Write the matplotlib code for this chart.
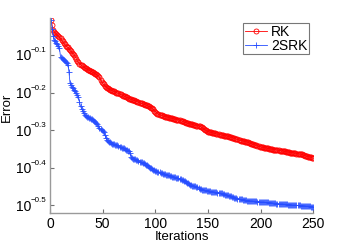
import numpy as np
import matplotlib
matplotlib.use("Agg")
import matplotlib.pyplot as plt
from matplotlib.ticker import FixedLocator, NullLocator, NullFormatter
from matplotlib.transforms import ScaledTranslation

plt.rcParams['font.family'] = ['Liberation Sans', 'DejaVu Sans']

iterations = list(range(1, 251))

# log10 of the error
rk_log_error = [
    -0.007, -0.020, -0.033, -0.038, -0.042, -0.045, -0.048, -0.050, -0.053, -0.056,
    -0.060, -0.064, -0.068, -0.072, -0.075, -0.078, -0.080, -0.083, -0.087, -0.090,
    -0.094, -0.097, -0.100, -0.105, -0.110, -0.116, -0.120, -0.123, -0.126, -0.128,
    -0.130, -0.132, -0.134, -0.136, -0.137, -0.139, -0.140, -0.142, -0.143, -0.145,
    -0.146, -0.148, -0.150, -0.152, -0.154, -0.156, -0.160, -0.166, -0.171, -0.175,
    -0.178, -0.182, -0.185, -0.187, -0.189, -0.191, -0.192, -0.194, -0.195, -0.196,
    -0.197, -0.198, -0.200, -0.201, -0.202, -0.203, -0.205, -0.206, -0.208, -0.209,
    -0.210, -0.212, -0.213, -0.214, -0.216, -0.217, -0.218, -0.219, -0.220, -0.221,
    -0.222, -0.223, -0.224, -0.225, -0.227, -0.228, -0.229, -0.230, -0.231, -0.232,
    -0.233, -0.234, -0.236, -0.237, -0.238, -0.240, -0.242, -0.245, -0.248, -0.251,
    -0.254, -0.256, -0.258, -0.259, -0.260, -0.261, -0.262, -0.263, -0.264, -0.264,
    -0.265, -0.266, -0.267, -0.268, -0.268, -0.269, -0.270, -0.270, -0.271, -0.272,
    -0.272, -0.273, -0.274, -0.275, -0.276, -0.277, -0.278, -0.279, -0.280, -0.281,
    -0.282, -0.283, -0.284, -0.284, -0.285, -0.286, -0.287, -0.287, -0.288, -0.289,
    -0.289, -0.290, -0.291, -0.293, -0.295, -0.297, -0.299, -0.301, -0.303, -0.304,
    -0.305, -0.306, -0.306, -0.307, -0.308, -0.309, -0.309, -0.310, -0.311, -0.311,
    -0.312, -0.313, -0.313, -0.314, -0.315, -0.315, -0.316, -0.316, -0.317, -0.318,
    -0.318, -0.319, -0.320, -0.321, -0.322, -0.323, -0.324, -0.325, -0.326, -0.327,
    -0.328, -0.328, -0.329, -0.330, -0.331, -0.331, -0.332, -0.333, -0.334, -0.335,
    -0.336, -0.337, -0.338, -0.339, -0.340, -0.341, -0.342, -0.343, -0.344, -0.345,
    -0.346, -0.346, -0.347, -0.347, -0.348, -0.349, -0.349, -0.350, -0.350, -0.351,
    -0.351, -0.352, -0.352, -0.353, -0.353, -0.354, -0.354, -0.355, -0.355, -0.356,
    -0.356, -0.357, -0.357, -0.358, -0.358, -0.359, -0.359, -0.360, -0.360, -0.361,
    -0.361, -0.362, -0.362, -0.363, -0.363, -0.364, -0.364, -0.365, -0.365, -0.366,
    -0.367, -0.368, -0.369, -0.370, -0.371, -0.371, -0.372, -0.373, -0.374, -0.375,
]

srk2_log_error = [
    -0.007, -0.030, -0.050, -0.060, -0.064, -0.068, -0.071, -0.075, -0.082, -0.105,
    -0.107, -0.110, -0.113, -0.116, -0.119, -0.122, -0.126, -0.145, -0.175, -0.180,
    -0.185, -0.189, -0.193, -0.197, -0.202, -0.207, -0.211, -0.225, -0.237, -0.243,
    -0.249, -0.255, -0.259, -0.262, -0.264, -0.266, -0.267, -0.268, -0.270, -0.271,
    -0.273, -0.276, -0.279, -0.282, -0.285, -0.290, -0.295, -0.298, -0.301, -0.303,
    -0.306, -0.312, -0.320, -0.326, -0.329, -0.331, -0.333, -0.335, -0.336, -0.337,
    -0.338, -0.339, -0.340, -0.341, -0.342, -0.344, -0.346, -0.347, -0.348, -0.349,
    -0.350, -0.352, -0.354, -0.355, -0.357, -0.360, -0.372, -0.375, -0.376, -0.377,
    -0.378, -0.380, -0.381, -0.382, -0.384, -0.385, -0.386, -0.387, -0.388, -0.390,
    -0.392, -0.394, -0.396, -0.398, -0.400, -0.402, -0.404, -0.406, -0.407, -0.409,
    -0.410, -0.411, -0.412, -0.413, -0.414, -0.415, -0.416, -0.417, -0.418, -0.419,
    -0.419, -0.420, -0.421, -0.422, -0.423, -0.424, -0.424, -0.425, -0.426, -0.427,
    -0.428, -0.429, -0.430, -0.431, -0.432, -0.434, -0.436, -0.437, -0.439, -0.440,
    -0.442, -0.444, -0.446, -0.447, -0.448, -0.449, -0.449, -0.450, -0.451, -0.452,
    -0.454, -0.456, -0.458, -0.459, -0.460, -0.460, -0.461, -0.461, -0.462, -0.462,
    -0.463, -0.463, -0.464, -0.464, -0.465, -0.465, -0.466, -0.466, -0.467, -0.467,
    -0.468, -0.468, -0.469, -0.470, -0.471, -0.472, -0.473, -0.473, -0.474, -0.475,
    -0.476, -0.477, -0.478, -0.479, -0.480, -0.481, -0.482, -0.483, -0.484, -0.484,
    -0.485, -0.485, -0.486, -0.486, -0.487, -0.487, -0.488, -0.488, -0.488, -0.489,
    -0.489, -0.489, -0.490, -0.490, -0.490, -0.490, -0.491, -0.491, -0.491, -0.492,
    -0.492, -0.492, -0.492, -0.493, -0.493, -0.493, -0.493, -0.494, -0.494, -0.494,
    -0.494, -0.495, -0.495, -0.495, -0.496, -0.496, -0.496, -0.497, -0.497, -0.497,
    -0.497, -0.498, -0.498, -0.498, -0.498, -0.499, -0.499, -0.499, -0.499, -0.500,
    -0.500, -0.500, -0.500, -0.501, -0.501, -0.501, -0.501, -0.502, -0.502, -0.502,
    -0.502, -0.502, -0.503, -0.503, -0.503, -0.503, -0.503, -0.504, -0.504, -0.504,
]

series_labels = ["RK", "2SRK"]
x_ticks = [0, 50, 100, 150, 200, 250]
y_tick_exponents = [-0.5, -0.4, -0.3, -0.2, -0.1]
y_tick_base = "10"
y_tick_exp_labels = ["\u22120.5", "\u22120.4", "\u22120.3", "\u22120.2", "\u22120.1"]

rk_error = np.power(10.0, np.array(rk_log_error))
srk2_error = np.power(10.0, np.array(srk2_log_error))

fig = plt.figure(figsize=(3.46, 2.43), dpi=100)
ax = fig.add_axes([0.1445, 0.1247, 0.761, 0.8013])

red = (1.0, 0.0, 0.0)
blue = (0.15, 0.3, 1.0)
ax.plot(iterations, rk_error, color=red, lw=0.6, marker='o', ms=3.6,
        mfc='none', mec=red, mew=0.6, label=series_labels[0])
ax.plot(iterations, srk2_error, color=blue, lw=0.6, marker='+', ms=4.0,
        mec=blue, mew=0.6, label=series_labels[1])

ax.set_yscale('log')
ax.set_xlim(0, 250)
ax.set_ylim(10 ** -0.5205, 10 ** -0.0013)

ax.xaxis.set_major_locator(FixedLocator(x_ticks))
ax.set_xticklabels([str(t) for t in x_ticks])
ax.yaxis.set_major_locator(FixedLocator([10 ** e for e in y_tick_exponents]))
ax.yaxis.set_major_formatter(NullFormatter())
ax.yaxis.set_minor_locator(NullLocator())
ax.yaxis.set_minor_formatter(NullFormatter())

for s in ['top', 'right']:
    ax.spines[s].set_visible(False)
for s in ['left', 'bottom']:
    ax.spines[s].set_color('#9a9a9a')
    ax.spines[s].set_linewidth(1.0)

ax.tick_params(axis='both', direction='in', length=3, width=0.8, color='#707070',
               labelsize=10, labelcolor='black', pad=3)

# y tick labels: "10" with a small raised exponent
ytrans = ax.get_yaxis_transform()
base_off = ScaledTranslation(-19 / 100, -1.5 / 100, fig.dpi_scale_trans)
exp_off = ScaledTranslation(-19 / 100, 1.0 / 100, fig.dpi_scale_trans)
for e, lab in zip(y_tick_exponents, y_tick_exp_labels):
    ax.text(0, 10 ** e, y_tick_base, transform=ytrans + base_off,
            ha='right', va='center', fontsize=10, clip_on=False)
    ax.text(0, 10 ** e, lab, transform=ytrans + exp_off,
            ha='left', va='bottom', fontsize=5.8, clip_on=False)

ax.set_xlabel("Iterations", fontsize=9.5)
ax.xaxis.set_label_coords(0.5, -0.095)
ax.set_ylabel("Error", fontsize=9.5)
ax.yaxis.set_label_coords(-0.142, 0.54)

leg = ax.legend(loc='upper right', bbox_to_anchor=(0.985, 0.975), fontsize=10,
                frameon=True, fancybox=False, handlelength=1.6, handletextpad=0.3,
                borderpad=0.12, labelspacing=0.0, borderaxespad=0.0, numpoints=1)
leg.get_frame().set_edgecolor('#555555')
leg.get_frame().set_linewidth(0.8)

fig.savefig("out.png", dpi=100)
